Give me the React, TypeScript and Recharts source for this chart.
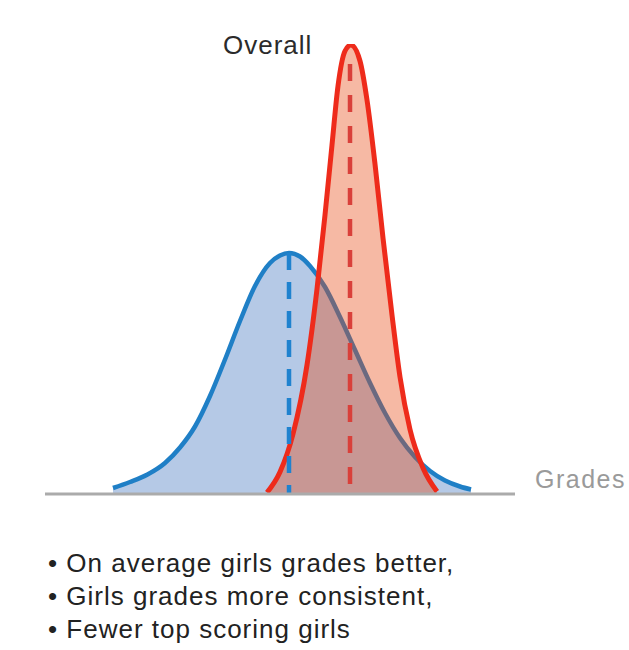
import React from "react";
import { ComposedChart, Area, XAxis, YAxis, ReferenceLine } from "recharts";

// Grade positions (x) and relative share (y)
const blueGrades = [13.6, 17, 20.5, 24, 27, 30, 33, 36, 39, 42, 45, 47, 48.8, 51, 53, 56, 59, 62, 65, 68, 71, 74, 77, 80, 83, 85.2];
const blueShare = [1.2, 2.4, 3.9, 6.2, 9.3, 13.5, 19.6, 26.9, 34.6, 41.6, 46.2, 47.7, 48.2, 47.5, 45.6, 41.4, 35.4, 28.8, 22.2, 16.2, 11.2, 7.4, 4.6, 2.7, 1.5, 0.9];

const redGrades = [44.4, 47, 49.6, 52.4, 54.4, 56, 57.4, 58.6, 60, 61.2, 63, 64.4, 66, 67.6, 69.4, 71, 73, 75.6, 78.4];
const redShare = [0.3, 4.4, 12.0, 25.8, 41.0, 55.8, 69.8, 81.6, 88.6, 89.8, 86.6, 78.8, 66.0, 51.2, 35.8, 23.4, 12.9, 5.2, 0.5];

// Mean markers: [blue, red]
const meanGrades = [48.8, 61.0];
const meanHeights = [48.2, 86];

const titleText = "Overall";
const axisText = "Grades";
const bullets = [
  "On average girls grades better,",
  "Girls grades more consistent,",
  "Fewer top scoring girls",
];

const blueData = blueGrades.map((g, i) => ({ g, v: blueShare[i] }));
const redData = redGrades.map((g, i) => ({ g, v: redShare[i] }));

const FONT = '"Liberation Sans", Arial, Helvetica, sans-serif';

export default function App() {
  return (
    <div
      style={{
        position: "absolute",
        left: 0,
        top: 0,
        width: 629,
        height: 650,
        background: "#ffffff",
        fontFamily: FONT,
        overflow: "hidden",
      }}
    >
      <ComposedChart
        width={629}
        height={500}
        margin={{ top: 44, right: 114, bottom: 6, left: 45 }}
        style={{ position: "absolute", left: 0, top: 0 }}
      >
        <XAxis type="number" dataKey="g" domain={[0, 94]} hide allowDataOverflow />
        <YAxis type="number" domain={[0, 90]} hide allowDataOverflow />
        <Area
          data={blueData}
          dataKey="v"
          type="monotone"
          stroke="#1f7fc6"
          strokeWidth={4.5}
          fill="#b5c9e6"
          fillOpacity={1}
          isAnimationActive={false}
          dot={false}
          activeDot={false}
        />
        <ReferenceLine
          segment={[
            { x: meanGrades[0], y: meanHeights[0] },
            { x: meanGrades[0], y: 0 },
          ]}
          stroke="#1f82cf"
          strokeWidth={4.5}
          strokeDasharray="17 12"
          ifOverflow="visible"
        />
        <Area
          data={redData}
          dataKey="v"
          type="monotone"
          stroke="#ee2b1b"
          strokeWidth={5}
          fill="#e84811"
          fillOpacity={0.38}
          isAnimationActive={false}
          dot={false}
          activeDot={false}
        />
        <ReferenceLine
          segment={[
            { x: meanGrades[1], y: meanHeights[1] },
            { x: meanGrades[1], y: 0 },
          ]}
          stroke="#d9403a"
          strokeWidth={4.5}
          strokeDasharray="17 14"
          ifOverflow="visible"
        />
        <ReferenceLine y={0} stroke="#ababab" strokeWidth={3} ifOverflow="visible" />
      </ComposedChart>

      <div
        style={{
          position: "absolute",
          left: 223,
          top: 32,
          fontSize: 26,
          lineHeight: "26px",
          letterSpacing: 1,
          color: "#2b2b2b",
          whiteSpace: "nowrap",
        }}
      >
        {titleText}
      </div>

      <div
        style={{
          position: "absolute",
          left: 535,
          top: 467,
          fontSize: 25,
          lineHeight: "25px",
          letterSpacing: 1.5,
          color: "#9a9a9a",
          whiteSpace: "nowrap",
        }}
      >
        {axisText}
      </div>

      <div
        style={{
          position: "absolute",
          left: 48,
          top: 547,
          fontSize: 26,
          lineHeight: "33px",
          letterSpacing: 1,
          color: "#222222",
          whiteSpace: "nowrap",
        }}
      >
        {bullets.map((b, i) => (
          <div key={i}>{"\u2022 " + b}</div>
        ))}
      </div>
    </div>
  );
}
